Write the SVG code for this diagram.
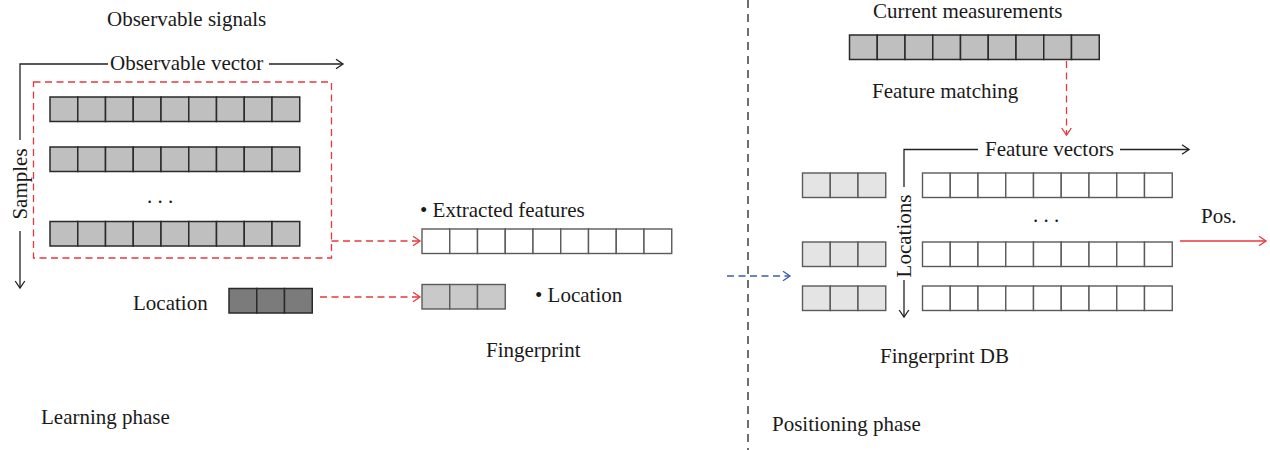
<svg xmlns="http://www.w3.org/2000/svg" xmlns:xlink="http://www.w3.org/1999/xlink" width="1270" height="450" viewBox="0 0 1270 450">
  <style>
    text { font-family: "Liberation Serif", "Times New Roman", serif; font-size: 21px; fill: #1a1a1a; }
    .axis { fill: none; stroke: #222; stroke-width: 1.3; }
    .red-dash { fill: none; stroke: #e8383d; stroke-width: 1.3; stroke-dasharray: 7 4.5; }
    .red-solid { fill: none; stroke: #e8383d; stroke-width: 1.3; }
    .blue-dash { fill: none; stroke: #3c5cb2; stroke-width: 1.3; stroke-dasharray: 7 4.5; }
    .divider { fill: none; stroke: #222; stroke-width: 1.3; stroke-dasharray: 8 6; }
    .sample { fill: #bfbfbf; stroke: #2a2a2a; stroke-width: 1.5; }
    .dark { fill: #7b7b7b; stroke: #2a2a2a; stroke-width: 1.5; }
    .empty { fill: #ffffff; stroke: #5a5a5a; stroke-width: 1.4; }
    .loc { fill: #c9c9c9; stroke: #5a5a5a; stroke-width: 1.4; }
    .dbloc { fill: #e4e4e4; stroke: #5a5a5a; stroke-width: 1.4; }
  </style>
  <defs>
    <!-- cell strips: 9-cell feature vector and 3-cell location -->
    <g id="row9">
      <rect x="0" y="0" width="27.75" height="24.5"/>
      <rect x="27.75" y="0" width="27.75" height="24.5"/>
      <rect x="55.5" y="0" width="27.75" height="24.5"/>
      <rect x="83.25" y="0" width="27.75" height="24.5"/>
      <rect x="111" y="0" width="27.75" height="24.5"/>
      <rect x="138.75" y="0" width="27.75" height="24.5"/>
      <rect x="166.5" y="0" width="27.75" height="24.5"/>
      <rect x="194.25" y="0" width="27.75" height="24.5"/>
      <rect x="222" y="0" width="27.75" height="24.5"/>
    </g>
    <g id="row3">
      <rect x="0" y="0" width="27.75" height="24.5"/>
      <rect x="27.75" y="0" width="27.75" height="24.5"/>
      <rect x="55.5" y="0" width="27.75" height="24.5"/>
    </g>
    <marker id="head-black" viewBox="-8 -6 10 12" markerWidth="10" markerHeight="12" refX="0" refY="0" orient="auto" markerUnits="userSpaceOnUse">
      <path d="M-7,-4.8 L0,0 L-7,4.8" fill="none" stroke="#222" stroke-width="1.3"/>
    </marker>
    <marker id="head-red" viewBox="-8 -6 10 12" markerWidth="10" markerHeight="12" refX="0" refY="0" orient="auto" markerUnits="userSpaceOnUse">
      <path d="M-7,-4.8 L0,0 L-7,4.8" fill="none" stroke="#e8383d" stroke-width="1.3"/>
    </marker>
    <marker id="head-blue" viewBox="-8 -6 10 12" markerWidth="10" markerHeight="12" refX="0" refY="0" orient="auto" markerUnits="userSpaceOnUse">
      <path d="M-7,-4.8 L0,0 L-7,4.8" fill="none" stroke="#3c5cb2" stroke-width="1.3"/>
    </marker>
  </defs>

  <!-- ===== Learning phase ===== -->
  <g id="observable-signals">
    <text x="107" y="26">Observable signals</text>
  </g>

  <g id="sample-rows">
    <use xlink:href="#row9" href="#row9" x="50" y="97" class="sample"/>
    <use xlink:href="#row9" href="#row9" x="50" y="147" class="sample"/>
    <text x="160" y="203" text-anchor="middle">. . .</text>
    <use xlink:href="#row9" href="#row9" x="50" y="221.5" class="sample"/>
  </g>

  <g id="location-input">
    <text x="133" y="310">Location</text>
    <use xlink:href="#row3" href="#row3" x="229" y="288.5" class="dark"/>
  </g>

  <g id="extracted-features">
    <text x="420" y="217">• Extracted features</text>
    <use xlink:href="#row9" href="#row9" x="422" y="229" class="empty"/>
  </g>

  <g id="fingerprint-location">
    <use xlink:href="#row3" href="#row3" x="422" y="284.5" class="loc"/>
    <text x="535" y="302">• Location</text>
  </g>

  <g id="fingerprint-label">
    <text x="486" y="357">Fingerprint</text>
  </g>

  <g id="learning-phase-label">
    <text x="41" y="424">Learning phase</text>
  </g>

  <!-- ===== Positioning phase ===== -->
  <g id="current-measurements">
    <text x="873" y="18">Current measurements</text>
    <use xlink:href="#row9" href="#row9" x="849.5" y="35" class="sample"/>
  </g>

  <g id="feature-matching-label">
    <text x="872" y="98">Feature matching</text>
  </g>

  <g id="fingerprint-db">
    <use xlink:href="#row3" href="#row3" x="802.5" y="173" class="dbloc"/>
    <use xlink:href="#row3" href="#row3" x="802.5" y="242" class="dbloc"/>
    <use xlink:href="#row3" href="#row3" x="802.5" y="286" class="dbloc"/>
    <use xlink:href="#row9" href="#row9" x="922.5" y="173" class="empty"/>
    <text x="1046" y="222" text-anchor="middle">. . .</text>
    <use xlink:href="#row9" href="#row9" x="922.5" y="242" class="empty"/>
    <use xlink:href="#row9" href="#row9" x="922.5" y="286" class="empty"/>
    <text x="880" y="363">Fingerprint DB</text>
  </g>

  <g id="position-output">
    <text x="1201" y="223">Pos.</text>
  </g>

  <g id="positioning-phase-label">
    <text x="772" y="431">Positioning phase</text>
  </g>

  <!-- axes with their labels -->
  <g id="axes">
    <path class="axis" d="M20,140 V64 H108"/>
    <text x="110" y="70">Observable vector</text>
    <path class="axis" d="M269,64 H343" marker-end="url(#head-black)"/>
    <text transform="translate(27,184) rotate(-90)" text-anchor="middle">Samples</text>
    <path class="axis" d="M20,231 V288" marker-end="url(#head-black)"/>

    <path class="axis" d="M904,187 V149.5 H978"/>
    <text x="985" y="156">Feature vectors</text>
    <path class="axis" d="M1120,149.5 H1189" marker-end="url(#head-black)"/>
    <text transform="translate(911,236) rotate(-90)" text-anchor="middle">Locations</text>
    <path class="axis" d="M904,280 V317" marker-end="url(#head-black)"/>
  </g>

  <!-- connectors -->
  <g id="connectors">
    <line class="divider" x1="748" y1="0" x2="748" y2="450"/>
    <rect class="red-dash" x="33.5" y="82" width="298" height="176"/>
    <path class="red-dash" d="M331.5,241 H420" marker-end="url(#head-red)"/>
    <path class="red-dash" d="M320,297 H420" marker-end="url(#head-red)"/>
    <path class="red-dash" d="M1066.5,61 V135" marker-end="url(#head-red)"/>
    <path class="blue-dash" d="M727,276 H790" marker-end="url(#head-blue)"/>
    <path class="red-solid" d="M1180,241 H1266" marker-end="url(#head-red)"/>
  </g>
</svg>
